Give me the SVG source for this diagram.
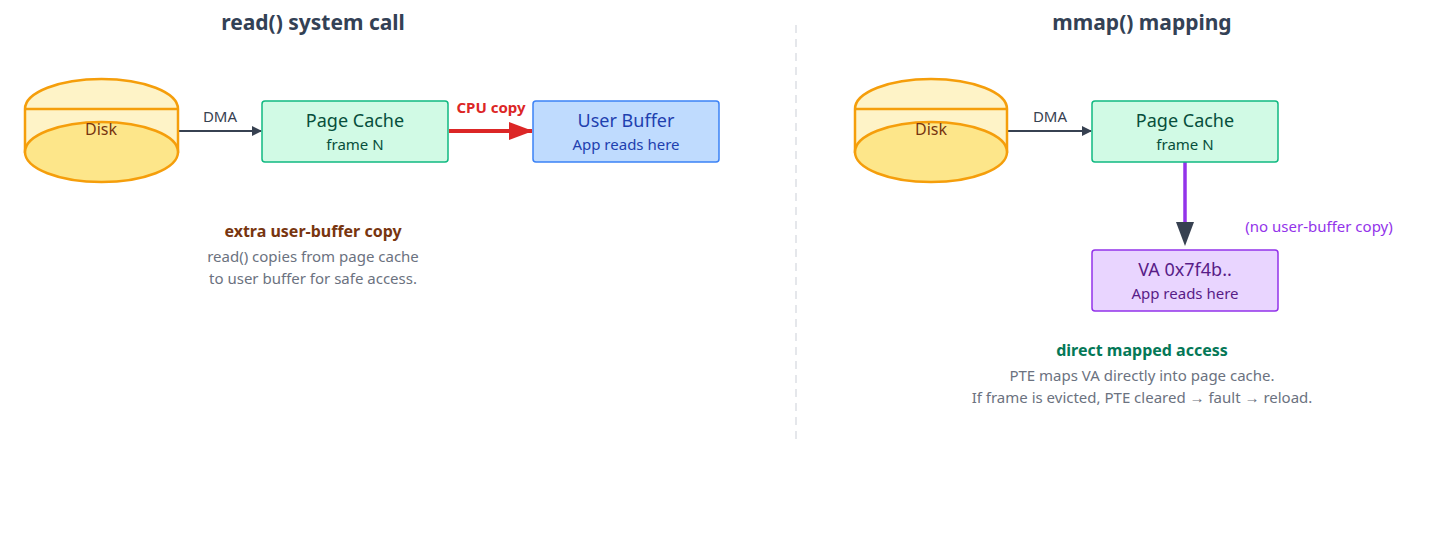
<svg xmlns="http://www.w3.org/2000/svg" width="1456" height="542" viewBox="0 0 1456 542">
<style>
text{font-family:"Noto Sans","Open Sans",sans-serif;text-anchor:middle}
.title{font-size:21px;font-weight:bold;fill:#334155}
.dtop{fill:#fef3c7;stroke:#f59e0b;stroke-width:2.5}
.dbot{fill:#fde68a;stroke:#f59e0b;stroke-width:2.5}
.dl{font-size:16px;fill:#78350f}
.pc{fill:#d1fae5;stroke:#10b981;stroke-width:1.5}
.ub{fill:#bfdbfe;stroke:#3b82f6;stroke-width:1.5}
.va{fill:#e9d5ff;stroke:#9333ea;stroke-width:1.5}
.t1{font-size:18px}
.t2{font-size:15px}
.lbl{font-size:15px;fill:#374151}
.note{font-size:15px;fill:#6b7280}
</style>
<defs>
<marker id="ah" markerWidth="10" markerHeight="10" refX="9" refY="5" orient="auto" markerUnits="userSpaceOnUse"><path d="M0,0 L10,5 L0,10Z" fill="#374151"/></marker>
<marker id="ahr" markerWidth="24" markerHeight="18" refX="23" refY="9" orient="auto" markerUnits="userSpaceOnUse"><path d="M0,0 L24,9 L0,18Z" fill="#dc2626"/></marker>
<marker id="ahv" markerWidth="18" markerHeight="24" refX="9" refY="23" orient="auto-start-reverse" markerUnits="userSpaceOnUse"><path d="M0,0 L18,0 L9,24Z" fill="#374151"/></marker>
</defs>
<text class="title" x="313" y="30">read() system call</text>
<text class="title" x="1142" y="30">mmap() mapping</text>
<line x1="796" y1="25" x2="796" y2="440" stroke="#e5e7eb" stroke-width="2" stroke-dasharray="8,6"/>
<g id="connectors">
<line x1="178" y1="131" x2="261" y2="131" stroke="#374151" stroke-width="2" marker-end="url(#ah)"/>
<text class="lbl" x="220" y="122">DMA</text>
<line x1="449" y1="131" x2="532" y2="131" stroke="#dc2626" stroke-width="4" marker-end="url(#ahr)"/>
<text x="491" y="113" style="font-size:15px;font-weight:bold;fill:#dc2626">CPU copy</text>
<line x1="1007" y1="131" x2="1091" y2="131" stroke="#374151" stroke-width="2" marker-end="url(#ah)"/>
<text class="lbl" x="1050" y="122">DMA</text>
<line x1="1185" y1="162" x2="1185" y2="224" stroke="#9333ea" stroke-width="3.5"/>
<path d="M1176,222 L1194,222 L1185,246Z" fill="#374151"/>
<text x="1319" y="232" style="font-size:15px;fill:#9333ea">(no user-buffer copy)</text>
</g>
<g id="disk1">
<path class="dtop" d="M25,109 A76.5,30 0 0 1 178,109 L178,152 L25,152Z"/>
<line x1="25" y1="109" x2="178" y2="109" stroke="#f59e0b" stroke-width="2.5"/>
<ellipse class="dbot" cx="101.5" cy="152" rx="76.5" ry="30"/>
<text class="dl" x="101" y="135">Disk</text>
</g>
<g id="pagecache1">
<rect class="pc" x="262" y="101" width="186" height="61" rx="3"/>
<text class="t1" x="355" y="127" fill="#064e3b">Page Cache</text>
<text class="t2" x="355" y="150" fill="#064e3b">frame N</text>
</g>
<g id="userbuffer">
<rect class="ub" x="533" y="101" width="186" height="61" rx="3"/>
<text class="t1" x="626" y="127" fill="#1e40af">User Buffer</text>
<text class="t2" x="626" y="150" fill="#1e40af">App reads here</text>
</g>
<g id="note1">
<text x="313" y="237" style="font-size:16px;font-weight:bold;fill:#78350f">extra user-buffer copy</text>
<text class="note" x="313" y="262">read() copies from page cache</text>
<text class="note" x="313" y="284">to user buffer for safe access.</text>
</g>
<g id="disk2">
<path class="dtop" d="M855,109 A76,30 0 0 1 1007,109 L1007,152 L855,152Z"/>
<line x1="855" y1="109" x2="1007" y2="109" stroke="#f59e0b" stroke-width="2.5"/>
<ellipse class="dbot" cx="931" cy="152" rx="76" ry="30"/>
<text class="dl" x="931" y="135">Disk</text>
</g>
<g id="pagecache2">
<rect class="pc" x="1092" y="101" width="186" height="61" rx="3"/>
<text class="t1" x="1185" y="127" fill="#064e3b">Page Cache</text>
<text class="t2" x="1185" y="150" fill="#064e3b">frame N</text>
</g>
<g id="va">
<rect class="va" x="1092" y="250" width="186" height="61" rx="3"/>
<text class="t1" x="1185" y="276" fill="#581c87">VA 0x7f4b..</text>
<text class="t2" x="1185" y="299" fill="#581c87">App reads here</text>
</g>
<g id="note2">
<text x="1142" y="356" style="font-size:16px;font-weight:bold;fill:#047857">direct mapped access</text>
<text class="note" x="1142" y="381">PTE maps VA directly into page cache.</text>
<text class="note" x="1142" y="403">If frame is evicted, PTE cleared → fault → reload.</text>
</g>
</svg>
